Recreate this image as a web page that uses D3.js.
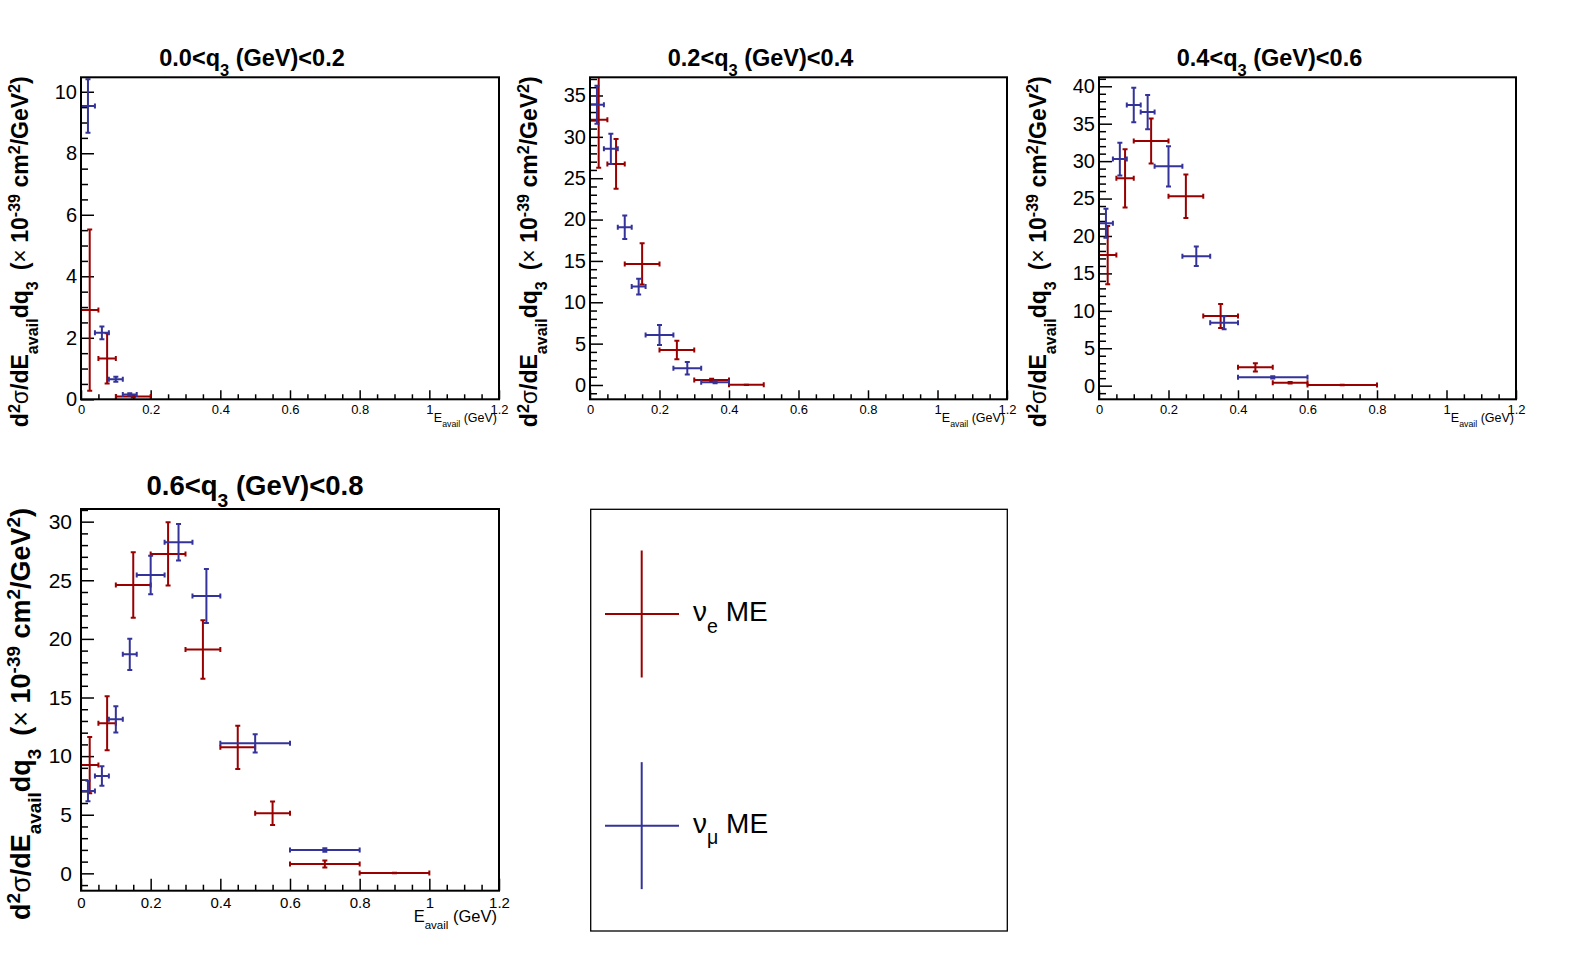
<!DOCTYPE html>
<html>
<head>
<meta charset="utf-8">
<script src="https://cdn.jsdelivr.net/npm/d3@7"></script>
<style>
body { margin: 0; background: #fff; }
svg { display: block; }
text { font-family: "Liberation Sans", Arial, sans-serif; fill: #000; }
</style>
</head>
<body>
<div id="chart"></div>
<script>
// ---------- DATA ----------
const qBinLabels = ["0.0", "0.2", "0.4", "0.6", "0.8"];
// bin edges in E_avail (GeV)
const nueEdges = [0, 0.05, 0.1, 0.2, 0.3, 0.4, 0.5, 0.6, 0.8, 1.0];
const numuEdges = [0, 0.04, 0.08, 0.12, 0.16, 0.24, 0.32, 0.4, 0.6, 0.8];

// nu_e ME cross sections per q3 bin (x 10^-39 cm^2/GeV^2)
const nueQ0 = [2.9, 1.33, 0.09];
const nueQ0Err = [2.62, 0.82, 0.03];
const nueQ1 = [32.06, 26.73, 14.64, 4.23, 0.6, 0.02];
const nueQ1Err = [5.8, 3.0, 2.5, 1.13, 0.15, 0.02];
const nueQ2 = [17.45, 27.7, 32.7, 25.3, 9.3, 2.45, 0.4, 0.1];
const nueQ2Err = [3.9, 3.9, 3.0, 2.9, 1.6, 0.55, 0.1, 0.03];
const nueQ3 = [9.24, 12.8, 24.6, 27.25, 19.1, 10.75, 5.12, 0.8, 0.03];
const nueQ3Err = [2.4, 2.3, 2.8, 2.7, 2.5, 1.85, 1.0, 0.3, 0.03];

// nu_mu ME cross sections per q3 bin
const numuQ0 = [9.54, 2.16, 0.65, 0.16];
const numuQ0Err = [0.87, 0.21, 0.08, 0.04];
const numuQ1 = [33.87, 28.55, 19.07, 11.9, 6.05, 2.02, 0.32];
const numuQ1Err = [2.3, 1.83, 1.41, 0.95, 1.21, 0.75, 0.1];
const numuQ2 = [21.7, 30.27, 37.5, 36.55, 29.3, 17.3, 8.4, 1.12];
const numuQ2Err = [1.95, 2.2, 2.3, 2.3, 2.7, 1.3, 0.87, 0.15];
const numuQ3 = [7.02, 8.3, 13.14, 18.68, 25.45, 28.24, 23.66, 11.09, 1.99];
const numuQ3Err = [0.87, 0.83, 1.12, 1.33, 1.65, 1.55, 2.3, 0.78, 0.15];

const xTicks = [0, 0.2, 0.4, 0.6, 0.8, 1, 1.2];
const seriesNames = ["e", "\u03bc"];

const colors = { nue: "#990000", numu: "#333399" };

// ---------- LAYOUT ----------
const W = 1596, H = 972;
const pads = [
	{ x0: 81, x1: 499, y0: 77.3, y1: 399.3, yDom: [0, 10.47], yStep: 2, yMinor: 0.5,
		big: false, nue: nueQ0, nueErr: nueQ0Err, numu: numuQ0, numuErr: numuQ0Err },
	{ x0: 590, x1: 1007, y0: 77.3, y1: 399.3, yDom: [-1.73, 37.2], yStep: 5, yMinor: 1,
		big: false, nue: nueQ1, nueErr: nueQ1Err, numu: numuQ1, numuErr: numuQ1Err },
	{ x0: 1099, x1: 1516, y0: 77.3, y1: 399.3, yDom: [-1.82, 41.2], yStep: 5, yMinor: 1,
		big: false, nue: nueQ2, nueErr: nueQ2Err, numu: numuQ2, numuErr: numuQ2Err },
	{ x0: 81, x1: 499, y0: 509, y1: 890.7, yDom: [-1.48, 31.08], yStep: 5, yMinor: 1,
		big: true, nue: nueQ3, nueErr: nueQ3Err, numu: numuQ3, numuErr: numuQ3Err },
];

const svg = d3.select("#chart").append("svg").attr("width", W).attr("height", H);
svg.append("rect").attr("width", W).attr("height", H).attr("fill", "#fff");

// text with sub/superscripts: parts = [[text, "n"|"sub"|"sup", extraAttrs]]
function richText(sel, parts, size, supShift = 0.42) {
	let shift = 0;
	parts.forEach(([t, mode, extra]) => {
		let target = mode === "sub" ? size * 0.42 : mode === "sup" ? -size * supShift : 0;
		let sp = sel.append("tspan").text(t).attr("dy", target - shift);
		if (mode !== "n") sp.attr("font-size", size * 0.7);
		if (extra) Object.entries(extra).forEach(([k, v]) => sp.attr(k, v));
		shift = target;
	});
	return sel;
}

const thin = { "font-weight": "normal" };

function drawPad(p, i) {
	const g = svg.append("g");
	const x = d3.scaleLinear().domain([0, 1.2]).range([p.x0, p.x1]);
	const y = d3.scaleLinear().domain(p.yDom).range([p.y1, p.y0]);

	const xMaj = p.big ? 12 : 9, xMin = p.big ? 6 : 5;
	const yMaj = 13, yMin = 7;
	const xFont = p.big ? 15 : 13, yFont = p.big ? 21 : 20;

	// minor x ticks
	const xMinorVals = d3.range(0, 1.2001, 0.05).filter((v) => Math.abs(v / 0.2 - Math.round(v / 0.2)) > 1e-6);
	g.append("g")
		.attr("transform", `translate(0,${p.y1})`)
		.call(d3.axisBottom(x).tickValues(xMinorVals).tickSize(-xMin).tickFormat(""))
		.call((a) => a.select(".domain").remove());
	g.append("g")
		.attr("transform", `translate(0,${p.y1})`)
		.call(d3.axisBottom(x).tickValues(xTicks).tickSize(-xMaj).tickPadding(p.big ? 7 : 5).tickFormat(d3.format("~g")))
		.call((a) => a.select(".domain").remove())
		.call((a) => a.selectAll("text").attr("font-size", xFont).attr("font-family", "Liberation Sans, Arial, sans-serif"));

	// y ticks
	const yMajVals = d3.range(Math.ceil(p.yDom[0] / p.yStep) * p.yStep, p.yDom[1], p.yStep);
	const yMinVals = d3.range(Math.ceil(p.yDom[0] / p.yMinor) * p.yMinor, p.yDom[1], p.yMinor)
		.filter((v) => Math.abs(v / p.yStep - Math.round(v / p.yStep)) > 1e-6);
	g.append("g")
		.attr("transform", `translate(${p.x0},0)`)
		.call(d3.axisLeft(y).tickValues(yMinVals).tickSize(-yMin).tickFormat(""))
		.call((a) => a.select(".domain").remove());
	g.append("g")
		.attr("transform", `translate(${p.x0},0)`)
		.call(d3.axisLeft(y).tickValues(yMajVals).tickSize(-yMaj).tickPadding(p.big ? 9 : 4).tickFormat(d3.format("~g")))
		.call((a) => a.select(".domain").remove())
		.call((a) => a.selectAll("text").attr("font-size", yFont).attr("font-family", "Liberation Sans, Arial, sans-serif"));
	g.selectAll(".tick line").attr("stroke", "#000").attr("stroke-width", 1.5);

	// clip for the data
	const clipId = `clip${i}`;
	svg.append("clipPath").attr("id", clipId)
		.append("rect").attr("x", p.x0).attr("y", p.y0).attr("width", p.x1 - p.x0).attr("height", p.y1 - p.y0);
	const dg = g.append("g").attr("clip-path", `url(#${clipId})`);

	const series = [
		{ vals: p.nue, errs: p.nueErr, edges: nueEdges, color: colors.nue },
		{ vals: p.numu, errs: p.numuErr, edges: numuEdges, color: colors.numu },
	];
	const cap = 2.5;
	series.forEach((s) => {
		const pts = s.vals.map((v, k) => ({ lo: s.edges[k], hi: s.edges[k + 1], v: v, e: s.errs[k] }));
		const sg = dg.append("g").attr("stroke", s.color).attr("stroke-width", 2).attr("fill", "none");
		pts.forEach((d) => {
			const xc = x((d.lo + d.hi) / 2), yc = y(d.v);
			const yt = y(d.v + d.e), yb = y(d.v - d.e);
			sg.append("line").attr("x1", x(d.lo)).attr("x2", x(d.hi)).attr("y1", yc).attr("y2", yc);
			sg.append("line").attr("x1", xc).attr("x2", xc).attr("y1", yt).attr("y2", yb);
			sg.append("line").attr("x1", x(d.lo)).attr("x2", x(d.lo)).attr("y1", yc - cap).attr("y2", yc + cap);
			sg.append("line").attr("x1", x(d.hi)).attr("x2", x(d.hi)).attr("y1", yc - cap).attr("y2", yc + cap);
			sg.append("line").attr("x1", xc - cap).attr("x2", xc + cap).attr("y1", yt).attr("y2", yt);
			sg.append("line").attr("x1", xc - cap).attr("x2", xc + cap).attr("y1", yb).attr("y2", yb);
		});
	});

	// frame
	g.append("rect").attr("x", p.x0).attr("y", p.y0).attr("width", p.x1 - p.x0).attr("height", p.y1 - p.y0)
		.attr("fill", "none").attr("stroke", "#000").attr("stroke-width", 2);

	// title
	const tSize = p.big ? 27.5 : 23.5;
	richText(g.append("text")
		.attr("x", (p.x0 + p.x1) / 2 + (p.big ? -35 : -38)).attr("y", p.big ? 495 : 66)
		.attr("text-anchor", "middle").attr("font-weight", "bold").attr("font-size", tSize),
		[[qBinLabels[i] + "<q", "n"], ["3", "sub"], [" (GeV)<" + qBinLabels[i + 1], "n"]], tSize);

	// x title
	const xtSize = p.big ? 16.5 : 12.5;
	richText(g.append("text")
		.attr("x", p.x1 - 2).attr("y", p.big ? 922 : 422)
		.attr("text-anchor", "end").attr("font-size", xtSize),
		[["E", "n"], ["avail", "sub"], [" (GeV)", "n"]], xtSize);

	// y title
	const ytSize = p.big ? 27 : 23;
	const yx = p.x0 - (p.big ? 51 : 53);
	richText(g.append("text")
		.attr("transform", `translate(${yx},${p.y0 - 1}) rotate(-90)`)
		.attr("text-anchor", "end").attr("font-weight", "bold").attr("font-size", ytSize),
		[["d", "n"], ["2", "sup"], ["\u03c3", "n", thin], ["/dE", "n"], ["avail", "sub"],
			["dq", "n"], ["3", "sub"], ["\u2009 (", "n"], ["\u00d7", "n", thin], [" 10", "n"],
			["-39", "sup"], [" cm", "n"], ["2", "sup"], ["/GeV", "n"], ["2", "sup"], [")", "n"]], ytSize, 0.36);
}

pads.forEach(drawPad);

// ---------- LEGEND ----------
const leg = svg.append("g");
leg.append("rect").attr("x", 590.7).attr("y", 509.3).attr("width", 416.6).attr("height", 421.7)
	.attr("fill", "#fff").attr("stroke", "#000").attr("stroke-width", 1.3);
const legY = d3.scaleBand().domain(seriesNames).range([509.3, 931]).paddingInner(0);
[colors.nue, colors.numu].forEach((c, k) => {
	const cy = legY(seriesNames[k]) + (k === 0 ? 104.7 : 105.5);
	leg.append("line").attr("x1", 605).attr("x2", 679).attr("y1", cy).attr("y2", cy)
		.attr("stroke", c).attr("stroke-width", 2);
	leg.append("line").attr("x1", 641.7).attr("x2", 641.7).attr("y1", cy - 63.5).attr("y2", cy + 63.5)
		.attr("stroke", c).attr("stroke-width", 2);
	richText(leg.append("text").attr("x", 693).attr("y", cy + 7).attr("font-size", 28),
		[["\u03bd", "n"], [seriesNames[k], "sub"], [" ME", "n"]], 28);
});
</script>
</body>
</html>
